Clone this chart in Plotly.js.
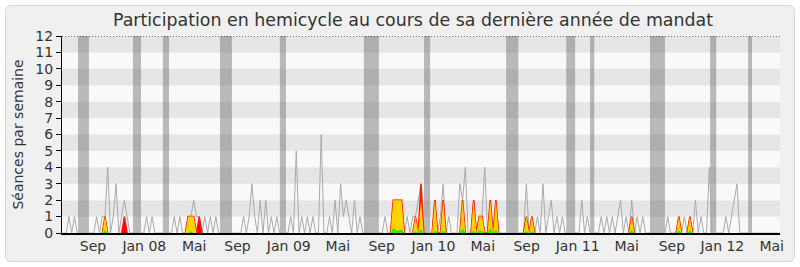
<!DOCTYPE html>
<html>
<head>
<meta charset="utf-8">
<script src="https://cdn.plot.ly/plotly-3.0.1.min.js"></script>
<style>html,body{margin:0;padding:0;background:#fff;}#chart{width:800px;height:267px;}</style>
</head>
<body>
<div id="chart"></div>
<script>
// Weekly series (index = week since start of the legislature)
var seances = [
  0,0,1,0,1,0,0,0,0,0,  0,0,1,0,1,1,4,0,1,3,
  0,1,2,1,0,0,0,0,0,0,  1,0,1,0,0,0,0,0,0,0,
  1,0,1,0,0,1,1,2,1,1,  0,1,0,1,0,1,0,0,0,0,
  0,0,0,0,0,1,0,1,3,1,  0,2,0,2,0,1,0,1,0,0,
  0,0,1,0,5,0,1,0,1,0,  1,0,0,6,0,0,1,0,2,0,
  3,1,2,1,0,2,0,1,0,0,  0,0,0,0,0,0,1,0,0,2,
  2,2,2,0,1,0,1,1,2,3,  0,0,0,0,2,0,1,3,0,1,
  0,0,0,3,2,4,0,0,2,0,  1,1,4,0,2,0,2,0,0,0,
  0,0,0,0,0,0,0,3,0,1,  0,1,0,3,0,1,2,0,1,0,
  1,0,0,0,0,0,0,2,0,1,  0,0,0,0,1,0,1,0,1,0,
  1,2,0,1,0,2,0,1,0,1,  0,0,0,0,0,0,0,0,1,0,
  0,0,1,0,1,0,1,0,2,0,  1,0,0,4,0,0,0,0,0,1,
  0,1,2,3,0,0,0,0,0,0,  0,0,0,0,0,0,0,0,0
];
// Sparse series: week indices and values
var presenceWeeks  = [15,22,45,46,47,49,119,120,121,122,127,129,134,137,144,148,150,151,154,156,167,169,205,222,226];
var presenceValues = [ 1, 1, 1, 1, 1, 1,  2,  2,  2,  2,  1,  3,  2,  2,  2,  2,  1,  1,  2,  2,  1,  1,  1,  1,  1];
var participationWeeks  = [15,45,46,47,119,120,121,122,127,129,134,137,144,148,150,151,154,156,167,169,205,222,226];
var participationValues = [ 1, 1, 1, 1,  2,  2,  2,  2,  1,  2,  2,  2,  2,  2,  1,  1,  2,  2,  1,  1,  1,  1,  1];
var interventionWeeks  = [15,46,119,120,121,122,127,129,134,137,144,148,150,151,154,156,167,169,205,222,226];
var interventionValues = [0.15,0.1,0.3,0.15,0.15,0.2,0.1,0.25,0.15,0.15,0.3,0.15,0.15,0.1,0.3,0.2,0.1,0.1,0.15,0.15,0.15];
// Parliamentary vacations (in weeks)
var vacationStart = [5.3,25.1,35.9,56.5,78.1,108.4,130.1,159.7,181.4,190.0,211.6,233.3,247.0];
var vacationEnd   = [9.2,28.0,38.1,60.8,80.3,113.8,132.3,164.1,184.6,191.5,217.0,235.5,248.4];
// Axis labels
var tickWeeks  = [10.7,29.2,47.2,62.8,81.3,99.0,114.8,133.5,151.3,167.1,185.5,203.2,219.5,237.7,255.5];
var tickLabels = ["Sep","Jan 08","Mai","Sep","Jan 09","Mai","Sep","Jan 10","Mai","Sep","Jan 11","Mai","Sep","Jan 12","Mai"];

var N = seances.length;
var weeks = seances.map(function(_, i){ return i; });
// Expand a sparse series; weeks far from any non-zero value become gaps
function expand(idx, vals){
  var a = new Array(N).fill(0);
  idx.forEach(function(w, k){ a[w] = vals[k]; });
  return a.map(function(v, i){
    var near = v > 0 || (i > 0 && a[i-1] > 0) || (i < N-1 && a[i+1] > 0);
    return near ? v : null;
  });
}
var presences = expand(presenceWeeks, presenceValues);
var participations = expand(participationWeeks, participationValues);
var interventions = expand(interventionWeeks, interventionValues);

var traces = [
  {x: weeks, y: seances, mode: 'lines', line: {color: '#aaaaaa', width: 1}, hoverinfo: 'skip', showlegend: false},
  {x: weeks, y: presences, mode: 'lines', fill: 'tozeroy', fillcolor: '#ff0000', connectgaps: false, line: {color: '#ff1a00', width: 1.5}, hoverinfo: 'skip', showlegend: false},
  {x: weeks, y: participations, mode: 'lines', fill: 'tozeroy', fillcolor: '#ffd200', connectgaps: false, line: {color: '#ffd200', width: 0}, hoverinfo: 'skip', showlegend: false},
  {x: weeks, y: interventions, mode: 'lines', fill: 'tozeroy', fillcolor: '#22ee22', connectgaps: false, line: {color: '#22ee22', width: 0}, hoverinfo: 'skip', showlegend: false}
];

var L = 62, R = 780, T = 36, B = 233;
function P(px, py){ return ((px - L)/(R - L)).toFixed(5) + ',' + ((B - py)/(B - T)).toFixed(5); }
var x0 = 5.5, y0 = 5.5, x1 = 794.5, y1 = 261.5, r = 6;
var bgPath = 'M' + P(x0 + r, y0) + ' L' + P(x1 - r, y0) + ' Q' + P(x1, y0) + ' ' + P(x1, y0 + r) +
  ' L' + P(x1, y1 - r) + ' Q' + P(x1, y1) + ' ' + P(x1 - r, y1) +
  ' L' + P(x0 + r, y1) + ' Q' + P(x0, y1) + ' ' + P(x0, y1 - r) +
  ' L' + P(x0, y0 + r) + ' Q' + P(x0, y0) + ' ' + P(x0 + r, y0) + ' Z';

var shapes = [{type: 'path', xref: 'paper', yref: 'paper', path: bgPath, fillcolor: '#f0f0f0', line: {color: '#d8d8d8', width: 1}, layer: 'below'}];
for (var k = 0; k < 12; k++) {
  shapes.push({type: 'rect', xref: 'x', yref: 'y', x0: -0.5, x1: N - 0.5, y0: k, y1: k + 1,
    fillcolor: (k % 2 === 1) ? '#e6e6e6' : '#f9f9f9', line: {width: 0}, layer: 'below'});
}
vacationStart.forEach(function(s, k){
  shapes.push({type: 'rect', xref: 'x', yref: 'y', x0: s, x1: vacationEnd[k], y0: 0, y1: 12,
    fillcolor: 'rgba(90,90,90,0.4)', line: {width: 0}, layer: 'below'});
});
shapes.push({type: 'line', xref: 'paper', yref: 'y', x0: 0, x1: 1, y0: 12, y1: 12, line: {color: '#000', width: 1, dash: '1px,2px'}, layer: 'above'});

var layout = {
  width: 800, height: 267,
  margin: {l: L, r: 800 - R, t: T, b: 267 - B},
  paper_bgcolor: '#ffffff', plot_bgcolor: '#f9f9f9',
  font: {family: 'DejaVu Sans', color: '#333'},
  title: {text: 'Participation en hemicycle au cours de sa dernière année de mandat', font: {size: 17.4, color: '#333'},
    x: 413/800, xanchor: 'center', xref: 'container', y: 1 - 20/267, yanchor: 'middle'},
  xaxis: {range: [-0.5, N - 0.5], tickvals: tickWeeks, ticktext: tickLabels, ticks: '', showgrid: false, zeroline: false,
    showline: true, linecolor: '#000', linewidth: 1.5, tickfont: {size: 14, color: '#333'}, fixedrange: true},
  yaxis: {range: [0, 12], dtick: 1, tick0: 0, ticks: 'outside', ticklen: 5, tickcolor: '#000', showgrid: false, zeroline: false,
    showline: true, linecolor: '#000', linewidth: 1, tickfont: {size: 14, color: '#333'},
    title: {text: 'Séances par semaine', font: {size: 14, color: '#333'}, standoff: 8}, fixedrange: true},
  shapes: shapes
};
Plotly.newPlot('chart', traces, layout, {displayModeBar: false, staticPlot: true});
</script>
</body>
</html>
